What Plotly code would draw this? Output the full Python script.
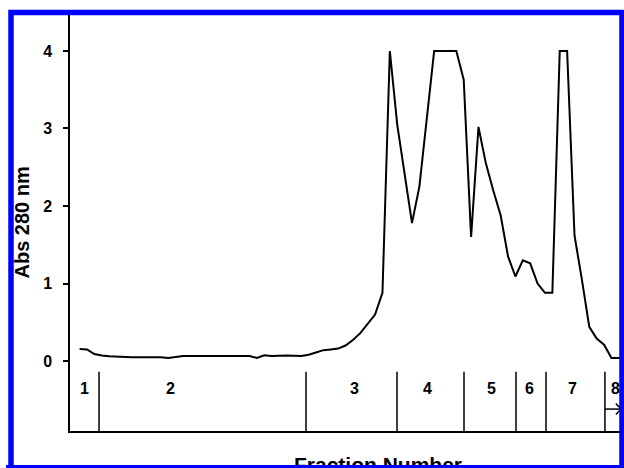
import plotly.graph_objects as go

# Absorbance trace (fraction number vs Abs 280 nm)
fractions = [1, 2, 3, 4, 5, 6, 8, 10, 12, 13, 15, 17, 19, 21, 23, 24, 25, 26, 27, 29, 31,
             32, 33, 34, 35, 36, 37, 38, 39, 40, 41, 42, 43, 44, 45, 46, 47, 48, 49, 50,
             51, 52, 53, 54, 55, 56, 57, 58, 59, 60, 61, 62, 63, 64, 65, 66, 67, 68, 69,
             70, 71, 72, 73, 74, 75]
absorbance = [0.155, 0.15, 0.09, 0.07, 0.06, 0.055, 0.05, 0.05, 0.05, 0.04, 0.065, 0.065, 0.065,
              0.07, 0.065, 0.065, 0.04, 0.075, 0.065, 0.07, 0.065,
              0.08, 0.11, 0.14, 0.15, 0.16, 0.2, 0.27, 0.36, 0.48, 0.6, 0.88, 4.0, 3.05, 2.4,
              1.78, 2.25, 3.1, 4.0, 4.0, 4.0, 4.0, 3.63, 1.6, 3.02, 2.55, 2.2, 1.88, 1.35,
              1.09, 1.3, 1.26, 1.0, 0.88, 0.88, 4.0, 4.0, 1.62, 1.05, 0.44, 0.29, 0.21,
              0.04, 0.04, 0.04]

# Pool boundaries and labels
pool_bounds = [3.63, 31.65, 43.97, 53.04, 60.08, 64.14, 72.12]
pool_labels = ["1", "2", "3", "4", "5", "6", "7", "8"]
pool_label_x = [1.73, 13.37, 38.15, 48.03, 56.7, 61.97, 67.66, 73.61]

y_ticks = [0, 1, 2, 3, 4]

W, H = 624, 468
ML, MR, MT, MB = 70, 0, 12, 37
XR = [-0.3, 74.7]
YR = [-0.903, 4.503]

FONT = "Liberation Sans, Arial, sans-serif"

def px2paper_x(px):
    return (px - ML) / (W - ML - MR)
def px2paper_y(py):
    return (H - MB - py) / (H - MT - MB)

fig = go.Figure()
fig.add_trace(go.Scatter(x=fractions, y=absorbance, mode="lines",
                         line=dict(color="black", width=2), showlegend=False,
                         hoverinfo="skip"))

shapes = []
for b in pool_bounds:
    shapes.append(dict(type="line", xref="x", yref="y", x0=b, x1=b, y0=-0.14, y1=YR[0],
                       line=dict(color="black", width=1.5)))
# arrow under pool 8
shapes.append(dict(type="line", xref="x", yref="y", x0=pool_bounds[-1], x1=74.3,
                   y0=-0.62, y1=-0.62, line=dict(color="black", width=1.5)))
shapes.append(dict(type="path", xref="x", yref="y",
                   path="M 73.6 -0.55 L 74.3 -0.62 L 73.6 -0.69",
                   line=dict(color="black", width=1.5)))
# blue frame
shapes.append(dict(type="rect", xref="paper", yref="paper", layer="above",
                   x0=px2paper_x(11), x1=px2paper_x(622),
                   y0=px2paper_y(468), y1=px2paper_y(12.5),
                   line=dict(color="#0000FF", width=5.5), fillcolor="rgba(0,0,0,0)"))

annotations = []
for lab, x in zip(pool_labels, pool_label_x):
    annotations.append(dict(x=x, y=-0.35, xref="x", yref="y", text=lab, showarrow=False,
                            font=dict(family=FONT, size=16, color="black", weight="bold")))
annotations.append(dict(x=px2paper_x(21.5), y=px2paper_y(223), xref="paper", yref="paper",
                        xanchor="center", yanchor="middle",
                        text="Abs 280 nm", textangle=-90, showarrow=False,
                        font=dict(family=FONT, size=20, color="black", weight="bold")))
annotations.append(dict(x=px2paper_x(378), y=px2paper_y(464), xref="paper", yref="paper",
                        xanchor="center", yanchor="middle",
                        text="Fraction Number", showarrow=False,
                        font=dict(family=FONT, size=21, color="black", weight="bold")))
# bottom band of the frame, drawn over the clipped x title
annotations.append(dict(x=px2paper_x(316), y=px2paper_y(467.5), xref="paper", yref="paper",
                        xanchor="center", yanchor="middle", text=" ", showarrow=False,
                        width=620, height=5, bgcolor="#0000FF", borderpad=0, borderwidth=0,
                        font=dict(size=2, color="#0000FF")))

fig.update_layout(
    width=W, height=H,
    margin=dict(l=ML, r=MR, t=MT, b=MB),
    paper_bgcolor="white", plot_bgcolor="white",
    shapes=shapes, annotations=annotations,
    xaxis=dict(range=XR, showgrid=False, zeroline=False, showticklabels=False,
               ticks="", showline=True, linecolor="black", linewidth=1.5),
    yaxis=dict(range=YR, showgrid=False, zeroline=False, tickvals=y_ticks,
               ticks="outside", ticklen=5, tickwidth=1.5, tickcolor="black",
               showline=True, linecolor="black", linewidth=1.5,
               ticklabelstandoff=8,
               tickfont=dict(family=FONT, size=16, color="black", weight="bold")),
)

fig.write_html("out.html", config={"displayModeBar": False},
               post_script="document.body.style.margin='0';document.body.style.overflow='hidden';")
